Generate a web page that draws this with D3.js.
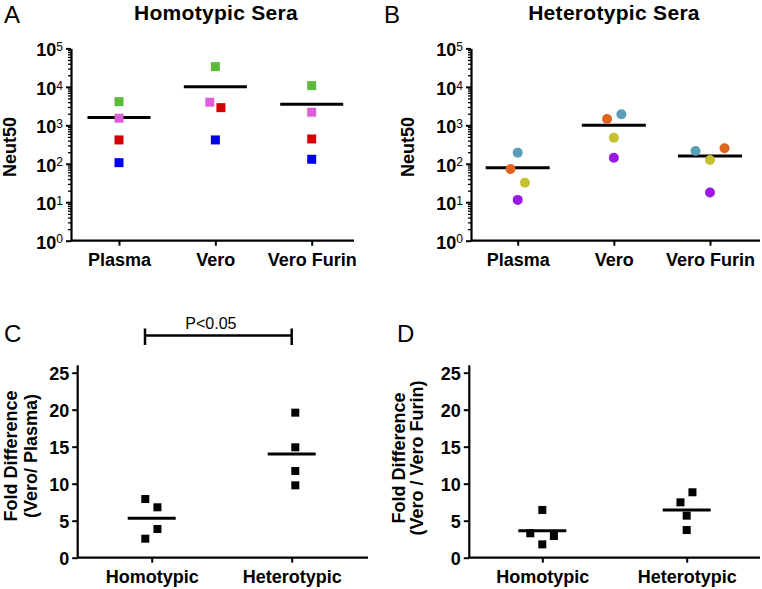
<!DOCTYPE html>
<html>
<head>
<meta charset="utf-8">
<script src="https://cdn.jsdelivr.net/npm/d3@7/dist/d3.min.js"></script>
<style>
  html, body { margin: 0; padding: 0; background: #fff; }
  svg { display: block; }
  text { font-family: "Liberation Sans", Arial, Helvetica, sans-serif; fill: #000; }
</style>
</head>
<body>
<svg id="chart" width="762" height="589"></svg>
<script>
// ---------------- DATA ----------------
const neutCategories = ["Plasma", "Vero", "Vero Furin"];
const neutTickValues = [1, 10, 100, 1000, 10000, 100000];

// Homotypic sera (squares): samples green, pink, red, blue
const homotypicSamples = ["H1", "H2", "H3", "H4"];
const homotypicPlasma = [4130, 1530, 417, 107];
const homotypicVero = [33600, 3990, 2880, 417];
const homotypicVeroFurin = [10770, 2190, 442, 131];
const homotypicMeans = [1590, 10140, 3530];

// Heterotypic sera (circles): samples teal, orange, yellow, purple
const heterotypicSamples = ["T1", "T2", "T3", "T4"];
const heterotypicPlasma = [195, 73, 32, 11.5];
const heterotypicVero = [1940, 1465, 478, 144];
const heterotypicVeroFurin = [215, 253, 126, 18];
const heterotypicMeans = [79, 1000, 159];

// Fold differences
const foldCategories = ["Homotypic", "Heterotypic"];
const foldTickValues = [0, 5, 10, 15, 20, 25];
const foldVeroPlasmaHomotypic = [7.93, 6.81, 3.88, 2.57];
const foldVeroPlasmaHeterotypic = [19.6, 14.92, 11.72, 9.78];
const foldVeroPlasmaMeans = [5.32, 14.0];
const foldVeroFurinHomotypic = [6.45, 3.3, 2.93, 1.8];
const foldVeroFurinHeterotypic = [8.84, 7.48, 5.68, 3.74];
const foldVeroFurinMeans = [3.65, 6.45];
const significanceLabel = "P<0.05";

// ---------------- STYLE / LAYOUT ----------------
const homotypicColors = ["#5cbb3b", "#dc5ed8", "#d40000", "#0000f0"];
const heterotypicColors = ["#5a9db6", "#e0631f", "#c6c12f", "#9a17e4"];
// horizontal jitter, in marker widths, per category per sample
const jitterA = [[0, 0, 0, 0], [0, -0.62, 0.62, 0], [0, 0, 0, 0]];
const jitterB = [[0, -0.72, 0.72, 0], [0.75, -0.68, 0, 0], [-1.45, 1.45, 0, 0]];
const jitterC = [[-0.8, 0.72, 0.72, -0.8], [0.45, 0.45, 0.45, 0.45]];
const jitterD = [[0, -1.5, 1.45, 0], [0.72, -0.78, 0, 0]];

const svg = d3.select("#chart");
const FF = "Liberation Sans, Arial, sans-serif";
const FONT_TICK = 18, FONT_CAT = 18, FONT_TITLE = 21;

function panelLetter(x, y, t) {
  svg.append("text").attr("x", x).attr("y", y).attr("font-size", 24).text(t);
}

function drawXAxis(g, x, x0, x1, yBase, labelY) {
  g.append("line").attr("x1", x0).attr("x2", x1).attr("y1", yBase).attr("y2", yBase)
    .attr("stroke", "#000").attr("stroke-width", 2.2);
  const ax = g.append("g").attr("transform", `translate(0,${yBase})`)
    .call(d3.axisBottom(x).tickSize(5).tickSizeOuter(0));
  ax.select(".domain").remove();
  ax.selectAll(".tick line").attr("stroke", "#000").attr("stroke-width", 2);
  ax.selectAll(".tick text").attr("y", labelY).attr("dy", 0)
    .attr("font-size", FONT_CAT).attr("font-weight", "bold").attr("font-family", FF);
}

function logPanel(opts) {
  const g = svg.append("g");
  const y = d3.scaleLog().domain([1, 1e5]).range([opts.yBot, opts.yTop]);
  const x = d3.scalePoint().domain(neutCategories).range(opts.catRange);

  // minor ticks
  const minor = [];
  for (let e = 0; e < 5; e++) for (let m = 2; m <= 9; m++) minor.push(m * Math.pow(10, e));
  const mg = g.append("g").attr("transform", `translate(${opts.x0},0)`)
    .call(d3.axisLeft(y).tickValues(minor).tickSize(3).tickFormat(""));
  mg.select(".domain").remove();
  mg.selectAll(".tick line").attr("stroke", "#000").attr("stroke-width", 1.3);

  const ag = g.append("g").attr("transform", `translate(${opts.x0},0)`)
    .call(d3.axisLeft(y).tickValues(neutTickValues).tickSize(5).tickSizeOuter(0).tickPadding(3)
      .tickFormat(""));
  ag.select(".domain").attr("stroke", "#000").attr("stroke-width", 2.2);
  ag.selectAll(".tick line").attr("stroke", "#000").attr("stroke-width", 2);
  ag.selectAll(".tick text").each(function(d) {
    const t = d3.select(this);
    t.attr("font-size", FONT_TICK).attr("font-weight", "bold").attr("dy", "0.42em").attr("font-family", FF);
    t.append("tspan").text("10");
    t.append("tspan").attr("dy", "-0.45em").attr("font-size", 12).attr("font-weight", "normal")
      .text(Math.round(Math.log10(d)));
  });

  drawXAxis(g, x, opts.x0, opts.x1, opts.yBot, 25);

  // y label
  g.append("text").attr("transform", `translate(${opts.yLabelX},147) rotate(-90)`)
    .attr("text-anchor", "middle").attr("font-size", 18).attr("font-weight", "bold").text("Neut50");
  // title
  g.append("text").attr("x", opts.titleX).attr("y", 20).attr("text-anchor", "middle")
    .attr("font-size", FONT_TITLE).attr("font-weight", "bold").attr("letter-spacing", 0.3).text(opts.title);

  // mean lines
  g.selectAll(".mean").data(opts.means).join("line")
    .attr("x1", (d, i) => x(neutCategories[i]) - opts.meanHalf)
    .attr("x2", (d, i) => x(neutCategories[i]) + opts.meanHalf)
    .attr("y1", d => y(d)).attr("y2", d => y(d))
    .attr("stroke", "#000").attr("stroke-width", 3);

  // points
  const pts = [];
  opts.series.forEach((vals, ci) => vals.forEach((v, si) =>
    pts.push({ cat: neutCategories[ci], v, si, j: opts.jitter[ci][si] })));
  const s = opts.size;
  if (opts.shape === "square") {
    g.selectAll(".pt").data(pts).join("rect")
      .attr("x", d => x(d.cat) + d.j * s - s / 2).attr("y", d => y(d.v) - s / 2)
      .attr("width", s).attr("height", s).attr("fill", d => opts.colors[d.si]);
  } else {
    g.selectAll(".pt").data(pts).join("circle")
      .attr("cx", d => x(d.cat) + d.j * s).attr("cy", d => y(d.v))
      .attr("r", s / 2).attr("fill", d => opts.colors[d.si]);
  }
}

function foldPanel(opts) {
  const g = svg.append("g");
  const y = d3.scaleLinear().domain([0, 25]).range([opts.yBot, opts.y25]);
  const yTopAxis = y(26);
  const x = d3.scalePoint().domain(foldCategories).range(opts.catRange);

  const ag = g.append("g").attr("transform", `translate(${opts.x0},0)`)
    .call(d3.axisLeft(y).tickValues(foldTickValues).tickSize(5.5).tickSizeOuter(0).tickPadding(3));
  ag.select(".domain").remove();
  g.append("line").attr("x1", opts.x0).attr("x2", opts.x0).attr("y1", yTopAxis).attr("y2", opts.yBot)
    .attr("stroke", "#000").attr("stroke-width", 2.2);
  ag.selectAll(".tick line").attr("stroke", "#000").attr("stroke-width", 2);
  ag.selectAll(".tick text").attr("font-size", FONT_TICK).attr("font-weight", "bold")
    .attr("font-family", FF).attr("dy", "0.36em");

  drawXAxis(g, x, opts.x0, opts.x1, opts.yBot, 25);

  const cy = opts.labelCY;
  g.append("text").attr("transform", `translate(${opts.x0 + opts.lab1},${cy}) rotate(-90)`)
    .attr("text-anchor", "middle").attr("font-size", 18).attr("font-weight", "bold").text("Fold Difference");
  g.append("text").attr("transform", `translate(${opts.x0 + opts.lab2},${cy}) rotate(-90)`)
    .attr("text-anchor", "middle").attr("font-size", 18).attr("font-weight", "bold").text(opts.label2);

  g.selectAll(".mean").data(opts.means).join("line")
    .attr("x1", (d, i) => x(foldCategories[i]) - opts.meanHalf)
    .attr("x2", (d, i) => x(foldCategories[i]) + opts.meanHalf)
    .attr("y1", d => y(d)).attr("y2", d => y(d))
    .attr("stroke", "#000").attr("stroke-width", 3);

  const pts = [];
  opts.series.forEach((vals, ci) => vals.forEach((v, si) =>
    pts.push({ cat: foldCategories[ci], v, j: opts.jitter[ci][si] })));
  const s = 8;
  g.selectAll(".pt").data(pts).join("rect")
    .attr("x", d => x(d.cat) + d.j * s - s / 2).attr("y", d => y(d.v) - s / 2)
    .attr("width", s).attr("height", s).attr("fill", "#000");
  return { g, x };
}

// Panel A
logPanel({ x0: 71, x1: 354, yTop: 48.4, yBot: 240.7, catRange: [119, 311.7],
  series: [homotypicPlasma, homotypicVero, homotypicVeroFurin], means: homotypicMeans,
  colors: homotypicColors, jitter: jitterA, shape: "square", size: 9, meanHalf: 31.5,
  title: "Homotypic Sera", titleX: 216, yLabelX: 16 });
// Panel B
logPanel({ x0: 471, x1: 760, yTop: 48.4, yBot: 240.7, catRange: [517.7, 710],
  series: [heterotypicPlasma, heterotypicVero, heterotypicVeroFurin], means: heterotypicMeans,
  colors: heterotypicColors, jitter: jitterB, shape: "circle", size: 10, meanHalf: 32,
  title: "Heterotypic Sera", titleX: 614, yLabelX: 414 });
// Panel C
const pc = foldPanel({ x0: 77.7, x1: 368, y25: 372.7, yBot: 557.7, catRange: [151.7, 291.7],
  series: [foldVeroPlasmaHomotypic, foldVeroPlasmaHeterotypic], means: foldVeroPlasmaMeans,
  jitter: jitterC, meanHalf: 24, label2: "(Vero/ Plasma)", lab1: -61, lab2: -41, labelCY: 456 });
// Panel D
foldPanel({ x0: 469.3, x1: 760, y25: 372.7, yBot: 557.7, catRange: [542.3, 686.7],
  series: [foldVeroFurinHomotypic, foldVeroFurinHeterotypic], means: foldVeroFurinMeans,
  jitter: jitterD, meanHalf: 24, label2: "(Vero / Vero Furin)", lab1: -64, lab2: -46, labelCY: 458 });

// Significance bracket on C
{
  const xl = pc.x(foldCategories[0]) - 6.7, xr = pc.x(foldCategories[1]);
  const yb = 335.5;
  pc.g.append("line").attr("x1", xl).attr("x2", xr).attr("y1", yb).attr("y2", yb)
    .attr("stroke", "#000").attr("stroke-width", 2.5);
  [xl, xr].forEach(xx => pc.g.append("line").attr("x1", xx).attr("x2", xx)
    .attr("y1", 328.5).attr("y2", 345).attr("stroke", "#000").attr("stroke-width", 2.5));
  pc.g.append("text").attr("x", (xl + xr) / 2 - 7.5).attr("y", 329).attr("text-anchor", "middle")
    .attr("font-size", 16).text(significanceLabel);
}

panelLetter(4, 23, "A");
panelLetter(384, 23, "B");
panelLetter(4, 342, "C");
panelLetter(397, 342, "D");
</script>
</body>
</html>
